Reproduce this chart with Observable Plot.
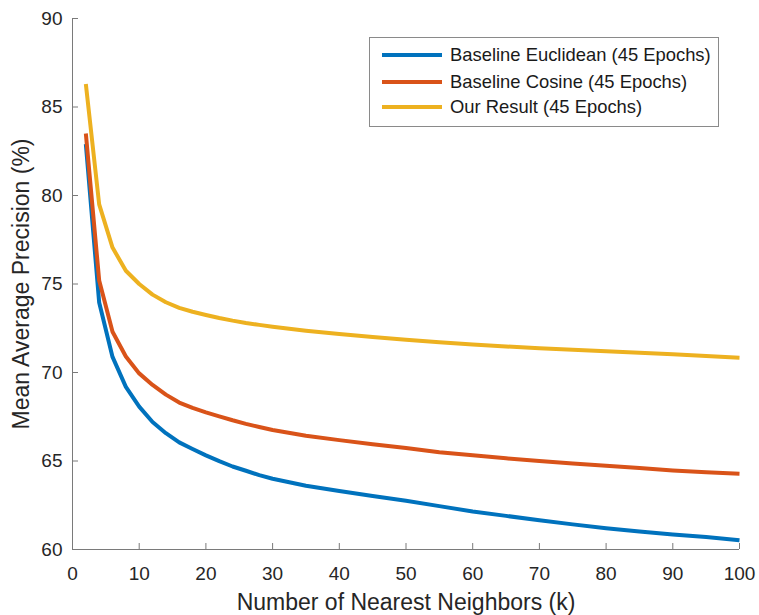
<!DOCTYPE html>
<html>
<head>
<meta charset="utf-8">
<script src="https://cdn.jsdelivr.net/npm/d3@7"></script>
<script src="https://cdn.jsdelivr.net/npm/@observablehq/plot@0.6"></script>
<style>
  html, body { margin: 0; padding: 0; background: #fff; }
  #wrap { position: relative; width: 759px; height: 615px; font-family: "Liberation Sans", Arial, sans-serif; }
  #legend { position: absolute; left: 369px; top: 37px; width: 348px; height: 88px; border: 1px solid #8a8a8a; background: #fff; box-sizing: content-box; }
  .row { position: absolute; left: 0; height: 24px; display: flex; align-items: center; }
  .sw { display: inline-block; width: 60px; height: 4px; margin-left: 12px; margin-right: 8px; }
  .lab { font-size: 18.4px; color: #1a1a1a; white-space: nowrap; }
</style>
</head>
<body>
<div id="wrap"></div>
<script>
const seriesNames = ["Baseline Euclidean (45 Epochs)", "Baseline Cosine (45 Epochs)", "Our Result (45 Epochs)"];
const seriesColors = ["#0072BD", "#D95319", "#EDB120"];
const kValues = [2,4,6,8,10,12,14,16,18,20,22,24,26,28,30,35,40,45,50,55,60,65,70,75,80,85,90,95,100];
const euclidean = [82.9,73.95,70.88,69.19,68.07,67.2,66.57,66.05,65.68,65.32,64.99,64.69,64.45,64.2,64.0,63.6,63.3,63.02,62.75,62.45,62.15,61.9,61.65,61.42,61.2,61.02,60.85,60.7,60.52];
const cosine = [83.5,75.2,72.3,70.9,69.95,69.3,68.75,68.3,68.0,67.75,67.52,67.3,67.1,66.92,66.75,66.43,66.18,65.95,65.73,65.5,65.32,65.15,65.0,64.86,64.73,64.6,64.47,64.37,64.28];
const ours = [86.3,79.5,77.06,75.75,75.0,74.4,73.97,73.65,73.43,73.25,73.08,72.93,72.8,72.69,72.59,72.36,72.17,72.0,71.85,71.71,71.58,71.47,71.37,71.28,71.2,71.12,71.03,70.93,70.84];
const xTicks = [0,10,20,30,40,50,60,70,80,90,100];
const yTicks = [60,65,70,75,80,85,90];
const xLabel = "Number of Nearest Neighbors (k)";
const yLabel = "Mean Average Precision (%)";

const allSeries = [euclidean, cosine, ours];
const data = [];
allSeries.forEach((vals, si) => vals.forEach((v, i) => data.push({k: kValues[i], v, s: seriesNames[si]})));

const W = 759, H = 615, mL = 72, mR = 20, mT = 18, mB = 66;
const axisColor = "#7a7a7a";
const textColor = "#262626";

const chart = Plot.plot({
  width: W, height: H,
  marginLeft: mL, marginRight: mR, marginTop: mT, marginBottom: mB,
  style: {fontFamily: "'Liberation Sans', Arial, sans-serif", color: textColor, background: "#fff"},
  x: {domain: [0, 100]},
  y: {domain: [60, 90]},
  color: {domain: seriesNames, range: seriesColors},
  marks: [
    Plot.ruleY([60], {stroke: axisColor, strokeWidth: 1}),
    Plot.ruleX([0], {stroke: axisColor, strokeWidth: 1}),
    Plot.tickX(xTicks, {x: d => d, stroke: axisColor, insetTop: H - mT - mB - 6}),
    Plot.tickY(yTicks, {y: d => d, stroke: axisColor, insetRight: W - mL - mR - 6}),
    Plot.axisX({ticks: xTicks, tickSize: 0, tickPadding: 17, fontSize: 19, tickFormat: d => String(d), label: xLabel, labelAnchor: "center", labelArrow: "none", labelOffset: 60, color: textColor}),
    Plot.axisY({ticks: yTicks, tickSize: 0, tickPadding: 10, fontSize: 19, tickFormat: d => String(d), label: yLabel, labelAnchor: "center", labelArrow: "none", labelOffset: 60, color: textColor}),
    Plot.line(data, {x: "k", y: "v", z: "s", stroke: "s", strokeWidth: 4, strokeLinejoin: "round", strokeLinecap: "butt"})
  ]
});

chart.querySelectorAll("[aria-label='x-axis label'] text, [aria-label='y-axis label'] text").forEach(t => t.setAttribute("font-size", "23"));
chart.querySelectorAll("[aria-label='x-axis label'], [aria-label='y-axis label']").forEach(g => g.setAttribute("font-size", "23"));

const wrap = document.getElementById("wrap");
wrap.appendChild(chart);

const legend = document.createElement("div");
legend.id = "legend";
const rowTops = [4.7, 31.7, 57.4];
seriesNames.forEach((name, i) => {
  const row = document.createElement("div");
  row.className = "row";
  row.style.top = rowTops[i] + "px";
  const sw = document.createElement("span");
  sw.className = "sw";
  sw.style.background = seriesColors[i];
  const lab = document.createElement("span");
  lab.className = "lab";
  lab.textContent = name;
  row.appendChild(sw); row.appendChild(lab);
  legend.appendChild(row);
});
wrap.appendChild(legend);
</script>
</body>
</html>
